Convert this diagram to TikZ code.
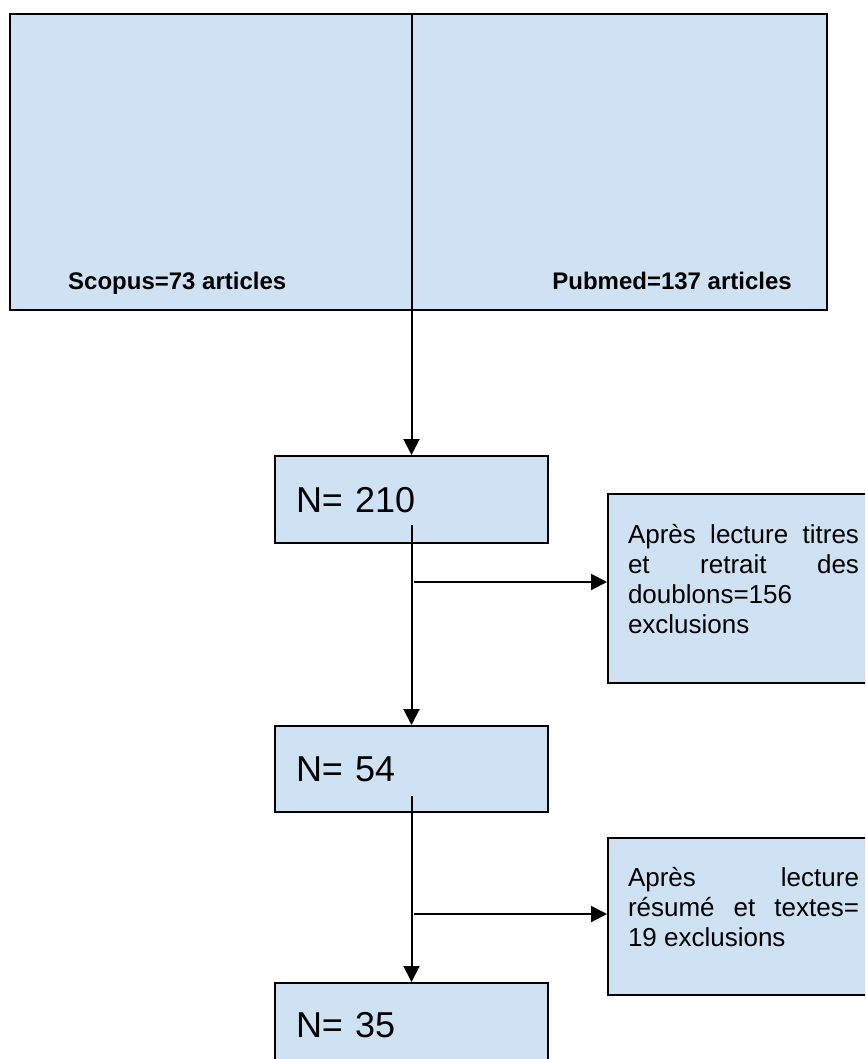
\documentclass[tikz,border=0pt]{standalone}
\usepackage{fontspec}
\setmainfont{Liberation Sans}
\usetikzlibrary{arrows.meta}
\definecolor{cBox}{RGB}{207,226,243}

\tikzset{
  box/.style={draw=black, line width=2pt, fill=cBox},
  nbox/.style={box, anchor=north west, text width=231pt, align=left,
    inner xsep=21pt, inner ysep=0pt, text height=56pt, text depth=31pt,
    font=\fontsize{36}{43}\selectfont},
  exclbox/.style={box, anchor=north west, text width=231pt, align=justify,
    inner xsep=20pt, inner ysep=0pt, font=\fontsize{26}{30}\selectfont},
  base/.style={inner sep=0pt, font=\fontsize{24}{28}\selectfont\bfseries},
  arr/.style={line width=2pt, -{Triangle[width=16pt,length=16pt]}},
}

\begin{document}
\begin{tikzpicture}[x=1pt,y=-1pt]
    \useasboundingbox (0,0) rectangle (865,1059);
    \clip (0,0) rectangle (865,1059);

    % sources
    \node[box, minimum width=817pt, minimum height=296pt, inner sep=0pt] (bases) at (418.5,162) {};
    \node[base, anchor=base west] (scopus) at (68,289) {Scopus=73 articles};
    \node[base, anchor=base east] (pubmed) at (792,289) {Pubmed=137 articles};

    % counts
    \node[nbox] (n210) at (274,455) {N= 210};
    \node[nbox, text height=55pt] (n54) at (274,725) {N= 54};
    \node[nbox, text height=54pt, text depth=33pt] (n35) at (274,982) {N= 35};

    % exclusions
    \node[exclbox, text height=49pt, text depth=140pt] (excl1) at (607,493)
        {Après lecture titres\linebreak et retrait des\linebreak doublons=156\linebreak exclusions};
    \node[exclbox, text height=48pt, text depth=109pt] (excl2) at (607,837)
        {Après lecture\linebreak résumé et textes=\linebreak 19 exclusions};

    \draw[arr] (bases.north -| n210.north) -- (n210.north);
    \draw[arr] ([yshift=19pt]n210.south) -- (n54.north);
    \draw[arr] ([yshift=17pt]n54.south) -- (n35.north);

    \coordinate (b1) at (414,582);
    \draw[arr] (b1) -- (b1 -| excl1.west);
    \coordinate (b2) at (414,914);
    \draw[arr] (b2) -- (b2 -| excl2.west);
\end{tikzpicture}
\end{document}
